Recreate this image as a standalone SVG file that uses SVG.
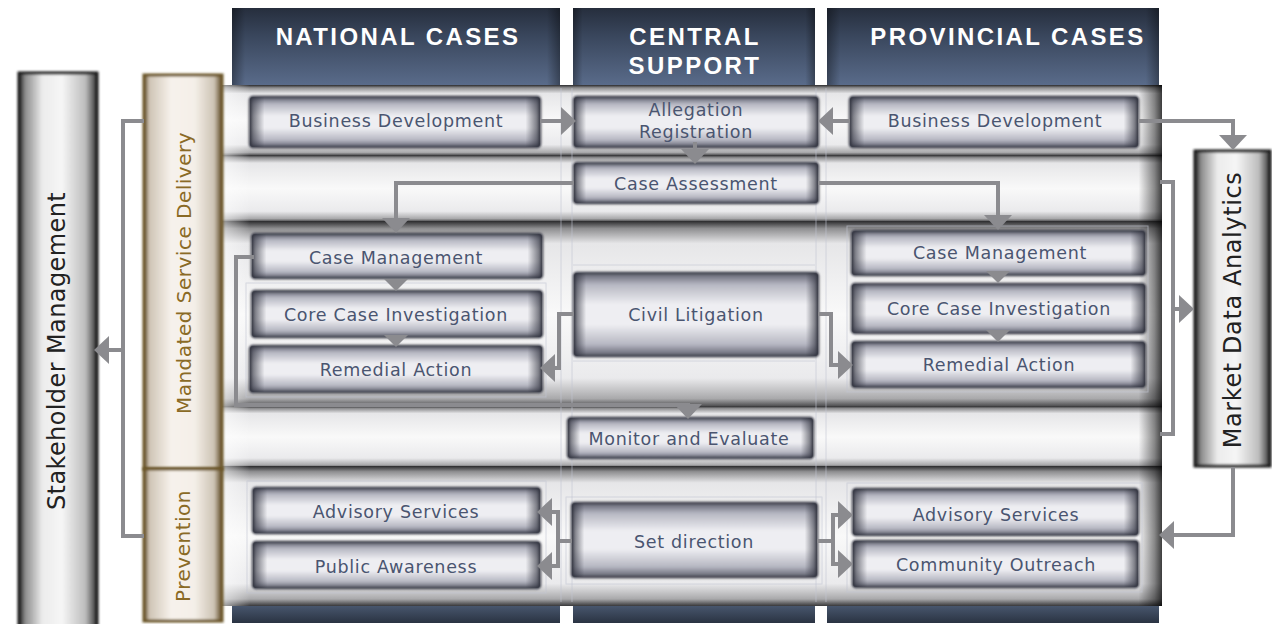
<svg xmlns="http://www.w3.org/2000/svg" xmlns:xlink="http://www.w3.org/1999/xlink" width="1272" height="624" viewBox="0 0 1272 624">
  <defs>
    <linearGradient id="gHdr" x1="0" y1="0" x2="0" y2="1">
      <stop offset="0" stop-color="#262e3d"/>
      <stop offset="0.35" stop-color="#39465c"/>
      <stop offset="1" stop-color="#5a6c8b"/>
    </linearGradient>
    <linearGradient id="gFoot" x1="0" y1="0" x2="0" y2="1">
      <stop offset="0" stop-color="#4b5a72"/>
      <stop offset="1" stop-color="#2a3342"/>
    </linearGradient>
    <linearGradient id="gEdgeH" x1="0" y1="0" x2="1" y2="0">
      <stop offset="0" stop-color="#000" stop-opacity="0.35"/>
      <stop offset="0.04" stop-color="#000" stop-opacity="0"/>
      <stop offset="0.96" stop-color="#000" stop-opacity="0"/>
      <stop offset="1" stop-color="#000" stop-opacity="0.35"/>
    </linearGradient>
    <linearGradient id="gBand" x1="0" y1="0" x2="0" y2="1">
      <stop offset="0" stop-color="#2a2a2c"/>
      <stop offset="0.04" stop-color="#8e8e90"/>
      <stop offset="0.12" stop-color="#e6e6e8"/>
      <stop offset="0.5" stop-color="#f9f9f9"/>
      <stop offset="0.84" stop-color="#eaeaec"/>
      <stop offset="0.95" stop-color="#a9a9ab"/>
      <stop offset="1" stop-color="#38383a"/>
    </linearGradient>
    <linearGradient id="gBandSide" x1="0" y1="0" x2="1" y2="0">
      <stop offset="0" stop-color="#fff" stop-opacity="0.55"/>
      <stop offset="0.03" stop-color="#fff" stop-opacity="0"/>
      <stop offset="0.975" stop-color="#000" stop-opacity="0"/>
      <stop offset="0.992" stop-color="#000" stop-opacity="0.45"/>
      <stop offset="1" stop-color="#000" stop-opacity="0.75"/>
    </linearGradient>
    <linearGradient id="gBox" x1="0" y1="0" x2="0" y2="1">
      <stop offset="0" stop-color="#5e606e"/>
      <stop offset="0.14" stop-color="#b6b7c2"/>
      <stop offset="0.38" stop-color="#eeeef2"/>
      <stop offset="0.62" stop-color="#eeeef2"/>
      <stop offset="0.86" stop-color="#b6b7c2"/>
      <stop offset="1" stop-color="#5e606e"/>
    </linearGradient>
    <linearGradient id="gBoxSide" x1="0" y1="0" x2="1" y2="0">
      <stop offset="0" stop-color="#2c2e3a" stop-opacity="0.75"/>
      <stop offset="0.05" stop-color="#2c2e3a" stop-opacity="0"/>
      <stop offset="0.95" stop-color="#2c2e3a" stop-opacity="0"/>
      <stop offset="1" stop-color="#2c2e3a" stop-opacity="0.75"/>
    </linearGradient>
    <linearGradient id="gPillar" x1="0" y1="0" x2="1" y2="0">
      <stop offset="0" stop-color="#1e1e1e"/>
      <stop offset="0.08" stop-color="#8c8c8c"/>
      <stop offset="0.3" stop-color="#ececec"/>
      <stop offset="0.55" stop-color="#f6f6f6"/>
      <stop offset="0.85" stop-color="#bdbdbd"/>
      <stop offset="0.94" stop-color="#6e6e6e"/>
      <stop offset="1" stop-color="#1e1e1e"/>
    </linearGradient>
    <linearGradient id="gCream" x1="0" y1="0" x2="1" y2="0">
      <stop offset="0" stop-color="#5c4720"/>
      <stop offset="0.07" stop-color="#cfc5b6"/>
      <stop offset="0.35" stop-color="#f7f2ec"/>
      <stop offset="0.65" stop-color="#f4efe8"/>
      <stop offset="0.9" stop-color="#cdc3b4"/>
      <stop offset="1" stop-color="#5c4720"/>
    </linearGradient>
    <filter id="soft" x="-5%" y="-10%" width="110%" height="120%">
      <feGaussianBlur stdDeviation="0.9"/>
    </filter>
    <marker id="arr" viewBox="0 0 15 28" refX="11" refY="14" markerWidth="15" markerHeight="28" markerUnits="userSpaceOnUse" orient="auto">
      <path d="M0,0 L15,14 L0,28 z" fill="#8b8b8f"/>
    </marker>
    <path id="tri" d="M-12,-12 L12,-12 L0,0 z"/>
  </defs>

  <style>
    .hdr { fill: url(#gHdr); }
    .edge { fill: url(#gEdgeH); }
    .foot { fill: url(#gFoot); }
    .band { fill: url(#gBand); }
    .bandSide { fill: url(#gBandSide); }
    .bx { fill: url(#gBox); stroke: #3a3c48; stroke-width: 2.5; filter: url(#soft); }
    .bxs { fill: url(#gBoxSide); }
    .faint { fill: none; stroke: #c3c7d4; stroke-width: 1; opacity: 0.6; }
    .pillar { fill: url(#gPillar); stroke: #1c1c1c; stroke-width: 3; filter: url(#soft); }
    .cream { fill: url(#gCream); stroke: #6a5426; stroke-width: 3; filter: url(#soft); }
    .ht { font-family: "Liberation Sans", Arial, sans-serif; font-weight: bold; font-size: 24px; letter-spacing: 2.4px; fill: #ffffff; text-anchor: middle; }
    .t { font-family: "DejaVu Sans", Verdana, sans-serif; font-size: 17.5px; letter-spacing: 0.7px; fill: #4a5570; text-anchor: middle; }
    .vt { font-family: "DejaVu Sans", Verdana, sans-serif; text-anchor: middle; }
    .conn { fill: none; stroke: #8b8b8f; stroke-width: 4; }
    .arrow { marker-end: url(#arr); }
    .tri { fill: #8b8b8f; }
  </style>

  <!-- column headers -->
  <g id="hdr-national">
    <rect class="hdr" x="232" y="8" width="328" height="78"/>
    <rect class="edge" x="232" y="8" width="328" height="78"/>
    <text class="ht" x="398" y="45">NATIONAL CASES</text>
  </g>
  <g id="hdr-central">
    <rect class="hdr" x="573" y="8" width="242" height="78"/>
    <rect class="edge" x="573" y="8" width="242" height="78"/>
    <text class="ht" x="695" y="45">CENTRAL</text>
    <text class="ht" x="695" y="74">SUPPORT</text>
  </g>
  <g id="hdr-provincial">
    <rect class="hdr" x="827" y="8" width="332" height="78"/>
    <rect class="edge" x="827" y="8" width="332" height="78"/>
    <text class="ht" x="1008" y="45">PROVINCIAL CASES</text>
  </g>

  <!-- column footers -->
  <g id="footers">
    <rect class="foot" x="232" y="604" width="328" height="19"/>
    <rect class="foot" x="573" y="604" width="242" height="19"/>
    <rect class="foot" x="827" y="604" width="332" height="19"/>
  </g>

  <!-- horizontal bands -->
  <g id="bands">
    <rect class="band" x="222" y="85" width="940" height="71"/>
    <rect class="bandSide" x="222" y="85" width="940" height="71"/>
    <rect class="band" x="222" y="155" width="940" height="67"/>
    <rect class="bandSide" x="222" y="155" width="940" height="67"/>
    <rect class="band" x="222" y="221" width="940" height="187"/>
    <rect class="bandSide" x="222" y="221" width="940" height="187"/>
    <rect class="band" x="222" y="406" width="940" height="62"/>
    <rect class="bandSide" x="222" y="406" width="940" height="62"/>
    <rect class="band" x="222" y="466" width="940" height="140"/>
    <rect class="bandSide" x="222" y="466" width="940" height="140"/>
    <!-- thin guide lines -->
    <line class="faint" x1="561" y1="88" x2="561" y2="602"/>
    <line class="faint" x1="572" y1="88" x2="572" y2="602"/>
    <line class="faint" x1="816" y1="88" x2="816" y2="602"/>
    <line class="faint" x1="826" y1="88" x2="826" y2="602"/>
    <rect class="faint" x="246" y="283" width="300" height="114"/>
    <rect class="faint" x="847" y="226" width="301" height="166"/>
    <line class="faint" x1="573" y1="265" x2="815" y2="265"/>
    <line class="faint" x1="573" y1="361" x2="815" y2="361"/>
    <rect class="faint" x="247" y="481" width="299" height="112"/>
    <rect class="faint" x="847" y="483" width="295" height="109"/>
    <rect class="faint" x="566" y="497" width="256" height="87"/>
  </g>

  <!-- side pillars -->
  <g id="stakeholder-management">
    <rect class="pillar" x="19" y="73" width="78" height="560"/>
    <text class="vt" font-size="24" letter-spacing="0.4" fill="#222" transform="translate(65,351) rotate(-90)">Stakeholder Management</text>
  </g>
  <g id="mandated-service-delivery">
    <rect class="cream" x="144" y="75" width="78" height="394"/>
    <text class="vt" font-size="20" letter-spacing="0.5" fill="#8a6a26" transform="translate(191,273) rotate(-90)">Mandated Service Delivery</text>
  </g>
  <g id="prevention">
    <rect class="cream" x="144" y="469" width="78" height="152"/>
    <text class="vt" font-size="20" letter-spacing="0.5" fill="#8a6a26" transform="translate(190,546) rotate(-90)">Prevention</text>
  </g>
  <g id="market-data-analytics">
    <rect class="pillar" x="1195" y="151" width="75" height="315"/>
    <text class="vt" font-size="24" letter-spacing="0.6" fill="#222" transform="translate(1241,310) rotate(-90)">Market Data Analytics</text>
  </g>

  <!-- process boxes -->
  <g id="nat-business-development">
    <rect class="bx" x="250" y="97" width="290" height="50" rx="3"/>
    <rect class="bxs" x="250" y="97" width="290" height="50" rx="3"/>
    <text class="t" x="396" y="127">Business Development</text>
  </g>
  <g id="allegation-registration">
    <rect class="bx" x="574" y="97" width="244" height="50" rx="3"/>
    <rect class="bxs" x="574" y="97" width="244" height="50" rx="3"/>
    <text class="t" x="696" y="116">Allegation</text>
    <text class="t" x="696" y="138">Registration</text>
  </g>
  <g id="prov-business-development">
    <rect class="bx" x="850" y="97" width="288" height="50" rx="3"/>
    <rect class="bxs" x="850" y="97" width="288" height="50" rx="3"/>
    <text class="t" x="995" y="127">Business Development</text>
  </g>
  <g id="case-assessment">
    <rect class="bx" x="574" y="163" width="244" height="40" rx="3"/>
    <rect class="bxs" x="574" y="163" width="244" height="40" rx="3"/>
    <text class="t" x="696" y="190">Case Assessment</text>
  </g>
  <g id="nat-case-management">
    <rect class="bx" x="252" y="234" width="290" height="44" rx="3"/>
    <rect class="bxs" x="252" y="234" width="290" height="44" rx="3"/>
    <text class="t" x="396" y="264">Case Management</text>
  </g>
  <g id="nat-core-case-investigation">
    <rect class="bx" x="252" y="291" width="290" height="46" rx="3"/>
    <rect class="bxs" x="252" y="291" width="290" height="46" rx="3"/>
    <text class="t" x="396" y="321">Core Case Investigation</text>
  </g>
  <g id="nat-remedial-action">
    <rect class="bx" x="250" y="346" width="292" height="46" rx="3"/>
    <rect class="bxs" x="250" y="346" width="292" height="46" rx="3"/>
    <text class="t" x="396" y="376">Remedial Action</text>
  </g>
  <g id="civil-litigation">
    <rect class="bx" x="574" y="273" width="244" height="83" rx="3"/>
    <rect class="bxs" x="574" y="273" width="244" height="83" rx="3"/>
    <text class="t" x="696" y="321">Civil Litigation</text>
  </g>
  <g id="prov-case-management">
    <rect class="bx" x="852" y="231" width="293" height="44" rx="3"/>
    <rect class="bxs" x="852" y="231" width="293" height="44" rx="3"/>
    <text class="t" x="1000" y="259">Case Management</text>
  </g>
  <g id="prov-core-case-investigation">
    <rect class="bx" x="852" y="284" width="293" height="49" rx="3"/>
    <rect class="bxs" x="852" y="284" width="293" height="49" rx="3"/>
    <text class="t" x="999" y="315">Core Case Investigation</text>
  </g>
  <g id="prov-remedial-action">
    <rect class="bx" x="852" y="342" width="293" height="45" rx="3"/>
    <rect class="bxs" x="852" y="342" width="293" height="45" rx="3"/>
    <text class="t" x="999" y="371">Remedial Action</text>
  </g>
  <g id="monitor-and-evaluate">
    <rect class="bx" x="568" y="418" width="245" height="40" rx="3"/>
    <rect class="bxs" x="568" y="418" width="245" height="40" rx="3"/>
    <text class="t" x="689" y="445">Monitor and Evaluate</text>
  </g>
  <g id="nat-advisory-services">
    <rect class="bx" x="253" y="488" width="287" height="45" rx="3"/>
    <rect class="bxs" x="253" y="488" width="287" height="45" rx="3"/>
    <text class="t" x="396" y="518">Advisory Services</text>
  </g>
  <g id="public-awareness">
    <rect class="bx" x="253" y="542" width="287" height="46" rx="3"/>
    <rect class="bxs" x="253" y="542" width="287" height="46" rx="3"/>
    <text class="t" x="396" y="573">Public Awareness</text>
  </g>
  <g id="set-direction">
    <rect class="bx" x="572" y="503" width="245" height="74" rx="3"/>
    <rect class="bxs" x="572" y="503" width="245" height="74" rx="3"/>
    <text class="t" x="694" y="548">Set direction</text>
  </g>
  <g id="prov-advisory-services">
    <rect class="bx" x="853" y="489" width="285" height="46" rx="3"/>
    <rect class="bxs" x="853" y="489" width="285" height="46" rx="3"/>
    <text class="t" x="996" y="521">Advisory Services</text>
  </g>
  <g id="community-outreach">
    <rect class="bx" x="853" y="541" width="285" height="46" rx="3"/>
    <rect class="bxs" x="853" y="541" width="285" height="46" rx="3"/>
    <text class="t" x="996" y="571">Community Outreach</text>
  </g>

  <!-- connectors -->
  <g id="connectors">
    <path class="conn arrow" d="M540,121 H572"/>
    <path class="conn arrow" d="M850,121 H822"/>
    <path class="conn arrow" d="M695,142 V160"/>
    <path class="conn arrow" d="M574,183 H396 V229"/>
    <path class="conn arrow" d="M818,183 H998 V226"/>
    <path class="conn arrow" d="M574,314 H559 V368 H544"/>
    <path class="conn arrow" d="M818,314 H831 V365 H849"/>
    <path class="conn arrow" d="M254,257 H236 V405 H688 V415"/>
    <path class="conn arrow" d="M572,541 H558 V512 H541"/>
    <path class="conn arrow" d="M558,541 V566 H541"/>
    <path class="conn arrow" d="M817,541 H833 V515 H849"/>
    <path class="conn arrow" d="M833,541 V564 H849"/>
    <path class="conn arrow" d="M1138,121 H1233 V146"/>
    <path class="conn" d="M1160,182 H1173 V434 H1160"/>
    <path class="conn arrow" d="M1173,309 H1190"/>
    <path class="conn arrow" d="M1233,467 V535 H1163"/>
    <path class="conn" d="M144,121 H123 V536 H144"/>
    <path class="conn arrow" d="M123,350 H98"/>
    <use class="tri" xlink:href="#tri" x="396" y="291"/>
    <use class="tri" xlink:href="#tri" x="396" y="347"/>
    <use class="tri" xlink:href="#tri" x="998" y="283"/>
    <use class="tri" xlink:href="#tri" x="998" y="342"/>
  </g>
</svg>
